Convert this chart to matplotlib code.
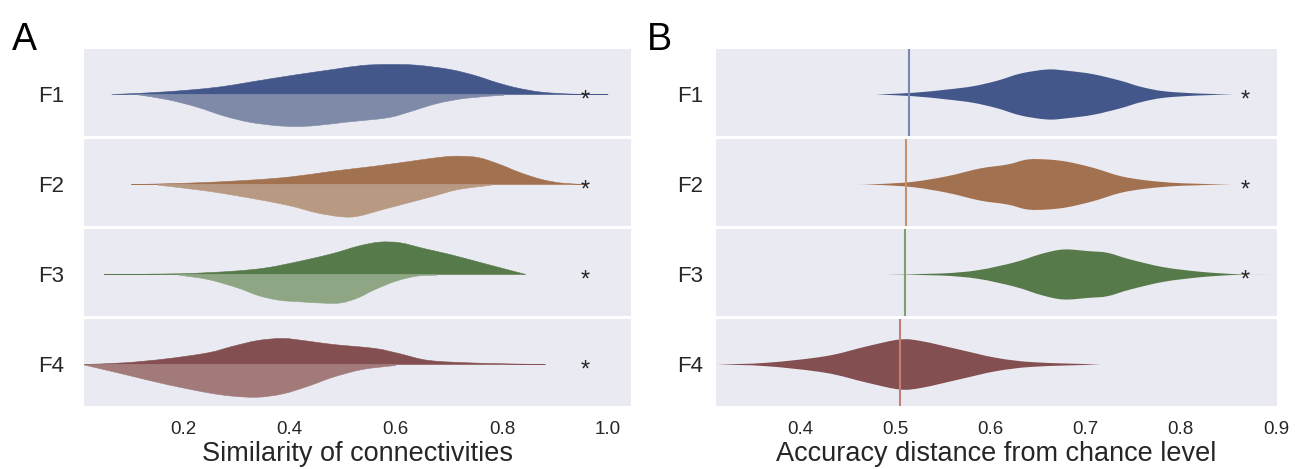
import matplotlib
matplotlib.use("Agg")
import matplotlib.pyplot as plt
from matplotlib.path import Path
from matplotlib.patches import PathPatch

plt.rcParams['font.family'] = ['Liberation Sans', 'DejaVu Sans']

rows = ["F1", "F2", "F3", "F4"]

# panel A: split violins, density outlines
# upper half (first condition)
a_top_x = [
    [0.065, 0.137, 0.208, 0.271, 0.325, 0.404, 0.482, 0.537, 0.584, 0.639, 0.702, 0.749, 0.788, 0.827, 0.875, 0.937, 1.0],
    [0.102, 0.208, 0.325, 0.404, 0.482, 0.561, 0.639, 0.686, 0.718, 0.757, 0.796, 0.835, 0.875, 0.914, 0.961],
    [0.051, 0.192, 0.294, 0.357, 0.420, 0.482, 0.529, 0.569, 0.608, 0.655, 0.702, 0.757, 0.804, 0.845],
    [0.012, 0.090, 0.169, 0.247, 0.294, 0.341, 0.388, 0.435, 0.482, 0.561, 0.608, 0.663, 0.757, 0.882],
]
a_top_h = [
    [0, 1.7, 4.3, 7.7, 12.3, 19, 25, 29, 30, 29.3, 25, 19, 12.3, 6.7, 2.3, 0.3, 0],
    [0, 1.3, 4.3, 7.7, 13.3, 18.3, 24, 27.3, 28.3, 26.7, 20, 11.7, 5, 1.3, 0],
    [0, 0.7, 3.3, 6.7, 13.3, 21, 28.3, 32.3, 31.7, 25.7, 20, 12.3, 5.7, 0],
    [0, 1.7, 5.7, 11.7, 18.3, 24, 26, 23.3, 20, 16, 10.7, 4, 1.3, 0],
]
# lower half (second condition)
a_bot_x = [
    [0.114, 0.169, 0.224, 0.278, 0.325, 0.373, 0.412, 0.451, 0.506, 0.584, 0.624, 0.678, 0.733, 0.804],
    [0.153, 0.247, 0.341, 0.404, 0.451, 0.498, 0.529, 0.576, 0.624, 0.671, 0.718, 0.780],
    [0.192, 0.247, 0.302, 0.341, 0.380, 0.420, 0.467, 0.498, 0.529, 0.561, 0.600, 0.639, 0.678],
    [0.012, 0.090, 0.169, 0.247, 0.294, 0.341, 0.388, 0.435, 0.482, 0.537, 0.600],
]
a_bot_h = [
    [0.3, 5, 12.3, 21.7, 27.7, 31, 32, 31, 27.7, 23.3, 17.7, 9, 3.7, 0.7],
    [0.7, 6.7, 15, 21.7, 28.3, 32.3, 31.7, 25, 18.3, 11.7, 5, 0.7],
    [0.7, 5, 13.3, 21, 25.7, 27.3, 28.7, 28.3, 23.3, 15, 6.7, 1.7, 0.7],
    [0.3, 10, 20, 28.3, 31.7, 32.7, 29.3, 21.7, 12.7, 5, 1],
]
a_star = [True, True, True, True]

# panel B: symmetric violins
b_x = [
    [0.480, 0.519, 0.555, 0.582, 0.607, 0.632, 0.660, 0.681, 0.708, 0.737, 0.758, 0.782, 0.818, 0.856],
    [0.458, 0.484, 0.519, 0.555, 0.589, 0.618, 0.639, 0.660, 0.681, 0.708, 0.737, 0.765, 0.800, 0.853],
    [0.489, 0.548, 0.587, 0.626, 0.654, 0.677, 0.704, 0.723, 0.747, 0.782, 0.821, 0.860, 0.895],
    [0.313, 0.365, 0.427, 0.471, 0.505, 0.528, 0.567, 0.606, 0.645, 0.716],
]
b_h = [
    [0, 1.7, 5, 8.3, 13.7, 21, 25, 23.7, 20.3, 13.7, 7.7, 3.3, 1, 0],
    [0, 0.5, 2.7, 8.3, 16, 20, 25, 25, 22.7, 16.7, 8.3, 4, 1.3, 0],
    [0, 1, 4.3, 12.3, 20.7, 25, 23.3, 21.7, 15, 7.3, 2.7, 0.3, 0],
    [0, 1.7, 8.3, 18.3, 25, 23.3, 15, 6.7, 2.3, 0],
]
b_chance = [0.515, 0.511, 0.510, 0.505]
b_star = [True, True, True, False]

dark = ["#44578a", "#a2714f", "#577a4a", "#844f50"]
light = ["#7e8aa7", "#b89a82", "#8ea684", "#a27a7a"]
chance_col = ["#7a87b5", "#c4916c", "#7e9f6e", "#c27f78"]

fig = plt.figure(figsize=(12.95, 4.69), dpi=100)
W, H = 1295.0, 469.0
top_px, bot_px = 49.0, 406.0
gap = 3.0
row_h = (bot_px - top_px - 3 * gap) / 4


def row_axes(left_px, right_px, i):
    y0 = top_px + i * (row_h + gap)
    ax = fig.add_axes([left_px / W, 1 - (y0 + row_h) / H,
                       (right_px - left_px) / W, row_h / H])
    ax.set_facecolor("#eaeaf2")
    for s in ax.spines.values():
        s.set_visible(False)
    ax.set_ylim(-(row_h / 2 - 2), row_h / 2 + 2)
    ax.set_yticks([0])
    ax.set_yticklabels([rows[i]], fontsize=16, color="#262626")
    ax.tick_params(length=0)
    return ax


def curve(xs, ys):
    """
    Smooth run through the read points (catmull-rom drawn as beziers)
    """
    pts = list(zip(xs, ys))
    verts, codes = [], []
    n = len(pts)
    for k in range(n - 1):
        p0 = pts[max(k - 1, 0)]
        p1 = pts[k]
        p2 = pts[k + 1]
        p3 = pts[min(k + 2, n - 1)]
        c1 = (p1[0] + (p2[0] - p0[0]) / 6, p1[1] + (p2[1] - p0[1]) / 6)
        c2 = (p2[0] - (p3[0] - p1[0]) / 6, p2[1] - (p3[1] - p1[1]) / 6)
        verts += [c1, c2, p2]
        codes += [Path.CURVE4] * 3
    return pts[0], verts, codes


def half_path(xs, hs, sign):
    start, verts, codes = curve(xs, [sign * h for h in hs])
    v = [(xs[0], 0), start] + verts + [(xs[-1], 0), (xs[0], 0)]
    c = [Path.MOVETO, Path.LINETO] + codes + [Path.LINETO, Path.CLOSEPOLY]
    return Path(v, c)


def full_path(xs, hs):
    start, verts, codes = curve(xs, hs)
    rstart, rverts, rcodes = curve(xs[::-1], [-h for h in hs[::-1]])
    v = [start] + verts + [rstart] + rverts + [start]
    c = [Path.MOVETO] + codes + [Path.LINETO] + rcodes + [Path.CLOSEPOLY]
    return Path(v, c)


def add_star(ax, x):
    ax.annotate("*", (x, 0), xytext=(0, -4), textcoords="offset points",
                ha="center", va="center", fontsize=17, color="#262626")


# panel A
for i in range(4):
    ax = row_axes(84, 631, i)
    ax.add_patch(PathPatch(half_path(a_top_x[i], a_top_h[i], 1), fc=dark[i], ec=dark[i], lw=0.4))
    ax.add_patch(PathPatch(half_path(a_bot_x[i], a_bot_h[i], -1), fc=light[i], ec=light[i], lw=0.4))
    ax.set_xlim(0.013, 1.043)
    ax.tick_params(axis="y", pad=14)
    if a_star[i]:
        add_star(ax, 0.957)
    ax.set_xticks([0.2, 0.4, 0.6, 0.8, 1.0])
    if i < 3:
        ax.set_xticklabels([])
    else:
        ax.tick_params(axis="x", labelsize=13.5, labelcolor="#262626", pad=11)
        ax.set_xlabel("Similarity of connectivities", fontsize=19.5, color="#262626", labelpad=2)

# panel B
for i in range(4):
    ax = row_axes(716, 1277, i)
    ax.add_patch(PathPatch(full_path(b_x[i], b_h[i]), fc=dark[i], lw=0))
    ax.axvline(b_chance[i], color=chance_col[i], lw=1.5)
    ax.set_xlim(0.312, 0.901)
    ax.tick_params(axis="y", pad=9)
    if b_star[i]:
        add_star(ax, 0.868)
    ax.set_xticks([0.4, 0.5, 0.6, 0.7, 0.8, 0.9])
    if i < 3:
        ax.set_xticklabels([])
    else:
        ax.tick_params(axis="x", labelsize=13.5, labelcolor="#262626", pad=11)
        ax.set_xlabel("Accuracy distance from chance level", fontsize=19.5, color="#262626", labelpad=2)

fig.text(12 / W, 1 - 50 / H, "A", fontsize=27, va="baseline", ha="left")
fig.text(647 / W, 1 - 50 / H, "B", fontsize=27, va="baseline", ha="left")

fig.savefig("out.png", dpi=100)
